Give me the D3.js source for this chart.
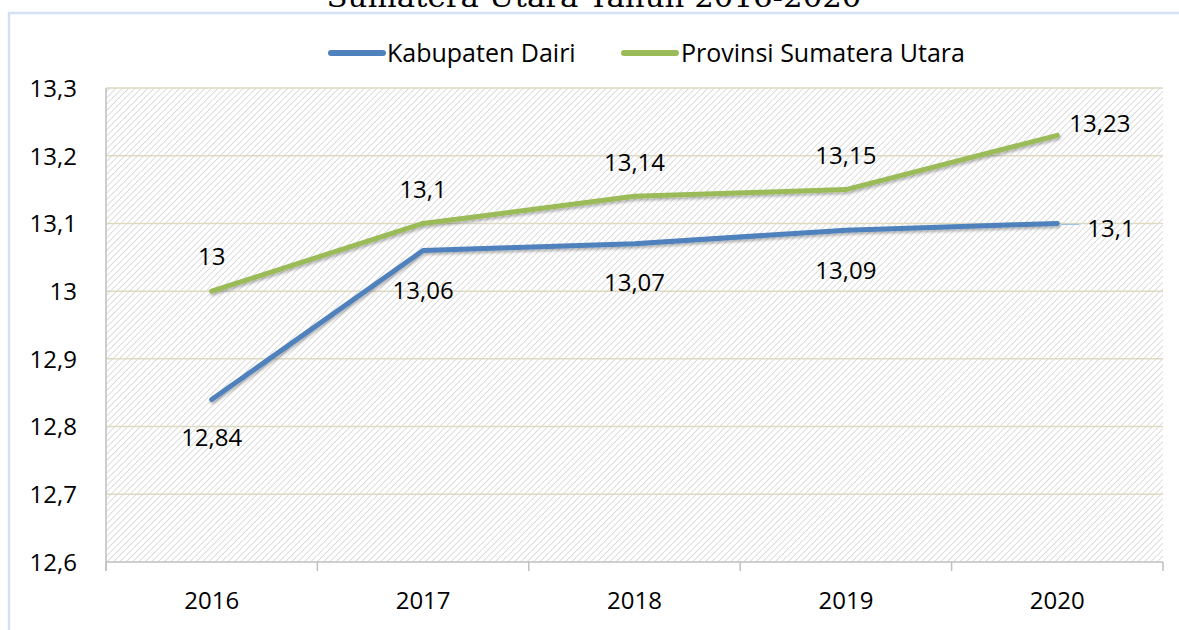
<!DOCTYPE html>
<html>
<head>
<meta charset="utf-8">
<script src="https://cdn.jsdelivr.net/npm/d3@7"></script>
<style>
  html, body { margin: 0; padding: 0; background: #fff; }
  svg { display: block; }
  text { font-family: "Open Sans", "Noto Sans", sans-serif; fill: #000; }
</style>
</head>
<body>
<svg id="chart" width="1179" height="630"></svg>
<script>
// ---- data ----
const title = "Sumatera Utara Tahun 2016-2020";
const years = ["2016", "2017", "2018", "2019", "2020"];
const seriesNames = ["Kabupaten Dairi", "Provinsi Sumatera Utara"];
const dairiValues = [12.84, 13.06, 13.07, 13.09, 13.10];
const sumutValues = [13.00, 13.10, 13.14, 13.15, 13.23];
const yTicks = [12.6, 12.7, 12.8, 12.9, 13.0, 13.1, 13.2, 13.3];

// ---- styles / layout ----
const colors = ["#4f81bd", "#9bbb59"];
const W = 1179, H = 630;
const plot = { left: 106, right: 1163, top: 88, bottom: 562 };
// label offsets (px) relative to each point: [dx, dy, anchor]
const dairiLabelPos = [[0, 38, "middle"], [0, 40, "middle"], [0, 39, "middle"], [0, 40, "middle"], [30, 5, "start"]];
const sumutLabelPos = [[0, -35, "middle"], [0, -34, "middle"], [0, -34, "middle"], [0, -34, "middle"], [12, -12, "start"]];

const fmt = v => String(+v.toFixed(2)).replace(".", ",");

const svg = d3.select("#chart");
const defs = svg.append("defs");
const pat = defs.append("pattern")
  .attr("id", "hatch").attr("patternUnits", "userSpaceOnUse")
  .attr("width", 4.5).attr("height", 4.5)
  .attr("patternTransform", "rotate(45)");
pat.append("rect").attr("width", 4.5).attr("height", 4.5).attr("fill", "#ffffff");
pat.append("line").attr("x1", 0).attr("y1", 0).attr("x2", 0).attr("y2", 4.5)
  .attr("stroke", "#d4d4d4").attr("stroke-width", 1.6);

const shadow = defs.append("filter").attr("id", "shadow")
  .attr("x", "-10%").attr("y", "-10%").attr("width", "120%").attr("height", "140%");
shadow.append("feDropShadow").attr("dx", 1).attr("dy", 2).attr("stdDeviation", 1.5)
  .attr("flood-color", "#000").attr("flood-opacity", 0.3);

// title (cut off at top, as in the reference)
svg.append("text").attr("x", 594).attr("y", 7)
  .attr("text-anchor", "middle")
  .style("font-family", "'DejaVu Serif', 'Liberation Serif', serif")
  .style("font-size", "27px")
  .attr("textLength", 535).attr("lengthAdjust", "spacingAndGlyphs")
  .text(title);

// outer border
svg.append("path").attr("d", `M9,${H} L9,13 L${W},13`)
  .attr("fill", "none").attr("stroke", "#d3e1f3").attr("stroke-width", 2.5);

// scales
const x = d3.scaleBand().domain(years).range([plot.left, plot.right]).padding(0);
const y = d3.scaleLinear().domain([12.6, 13.3]).range([plot.bottom, plot.top]);
const cx = d => x(d) + x.bandwidth() / 2;

// plot background
svg.append("rect").attr("x", plot.left).attr("y", plot.top)
  .attr("width", plot.right - plot.left).attr("height", plot.bottom - plot.top)
  .attr("fill", "url(#hatch)");

// gridlines
svg.append("g").selectAll("line").data(yTicks.filter(t => t > 12.6)).join("line")
  .attr("x1", plot.left).attr("x2", plot.right)
  .attr("y1", d => y(d)).attr("y2", d => y(d))
  .attr("stroke", "#ddd9c3").attr("stroke-width", 1.5);

// y axis
const yAxis = svg.append("g").attr("transform", `translate(${plot.left},0)`)
  .call(d3.axisLeft(y).tickValues(yTicks).tickSize(0).tickPadding(29).tickFormat(fmt));
yAxis.select(".domain").attr("stroke", "#bfbfbf").attr("stroke-width", 1.5)
  .attr("d", `M0,${plot.top}V${plot.bottom + 9}`);
yAxis.selectAll("text").style("font-size", "24px").attr("dy", "0.35em")
  .style("font-family", "'Open Sans', sans-serif");

// x axis
const xAxis = svg.append("g").attr("transform", `translate(0,${plot.bottom})`)
  .call(d3.axisBottom(x).tickSize(0).tickPadding(30));
xAxis.select(".domain").attr("stroke", "#bfbfbf").attr("stroke-width", 1.5)
  .attr("d", `M${plot.left},0H${plot.right}`);
xAxis.selectAll("text").style("font-size", "24px").style("font-family", "'Open Sans', sans-serif");
xAxis.append("g").selectAll("line").data(years.concat(["end"])).join("line")
  .attr("x1", (d, i) => i < years.length ? x(d) : plot.right)
  .attr("x2", (d, i) => i < years.length ? x(d) : plot.right)
  .attr("y1", 0).attr("y2", 9)
  .attr("stroke", "#bfbfbf").attr("stroke-width", 1.5);

// lines
const line = d3.line().x(d => cx(d.year)).y(d => y(d.value));
const series = [dairiValues, sumutValues].map((vals, i) => ({
  name: seriesNames[i], color: colors[i],
  points: vals.map((v, j) => ({ year: years[j], value: v }))
}));

// leader line for last Dairi label
svg.append("line")
  .attr("x1", cx(years[4]) + 4).attr("x2", cx(years[4]) + 22)
  .attr("y1", y(dairiValues[4]) + 1).attr("y2", y(dairiValues[4]) + 1)
  .attr("stroke", "#9dc3e6").attr("stroke-width", 1.2);

svg.append("g").selectAll("path").data(series).join("path")
  .attr("d", d => line(d.points))
  .attr("fill", "none").attr("stroke", d => d.color)
  .attr("stroke-width", 5).attr("stroke-linecap", "round").attr("stroke-linejoin", "round")
  .attr("filter", "url(#shadow)");

// labels
const labelData = [];
dairiValues.forEach((v, j) => labelData.push({ v, year: years[j], pos: dairiLabelPos[j] }));
sumutValues.forEach((v, j) => labelData.push({ v, year: years[j], pos: sumutLabelPos[j] }));
svg.append("g").selectAll("text").data(labelData).join("text")
  .attr("x", d => cx(d.year) + d.pos[0])
  .attr("y", d => y(d.v) + d.pos[1])
  .attr("dy", "0.35em")
  .attr("text-anchor", d => d.pos[2])
  .style("font-size", "24px")
  .text(d => fmt(d.v));

// legend
const legendItems = [
  { name: seriesNames[0], color: colors[0], x1: 331, x2: 383, tx: 387 },
  { name: seriesNames[1], color: colors[1], x1: 624, x2: 676, tx: 681 }
];
const lg = svg.append("g").selectAll("g").data(legendItems).join("g");
lg.append("line").attr("x1", d => d.x1).attr("x2", d => d.x2).attr("y1", 53).attr("y2", 53)
  .attr("stroke", d => d.color).attr("stroke-width", 6).attr("stroke-linecap", "round");
lg.append("text").attr("x", d => d.tx).attr("y", 53).attr("dy", "0.35em")
  .style("font-size", "25px").text(d => d.name);
</script>
</body>
</html>
